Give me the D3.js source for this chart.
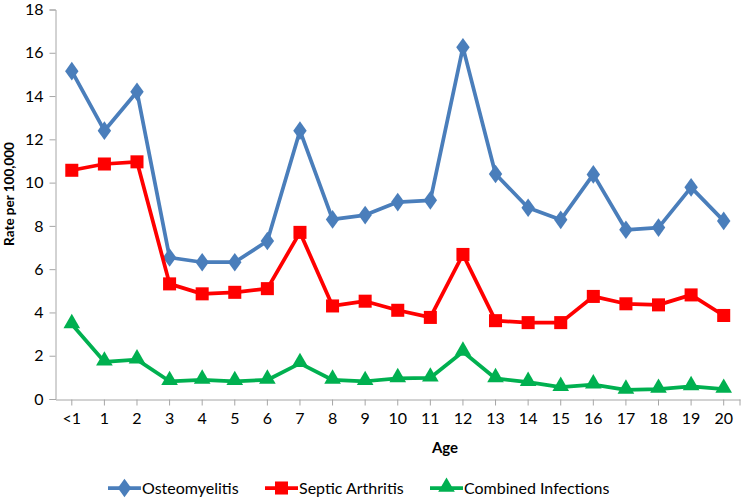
<!DOCTYPE html>
<html><head><meta charset="utf-8">
<script src="https://cdn.jsdelivr.net/npm/d3@7"></script>
<style>body{margin:0;background:#fff}svg{display:block}text{font-family:Lato,"Open Sans",sans-serif;fill:#000}</style>
</head><body><svg id="c" width="742" height="499"></svg>
<script>
const ages = ["<1","1","2","3","4","5","6","7","8","9","10","11","12","13","14","15","16","17","18","19","20"];
const osteomyelitis = [15.15,12.4,14.2,6.54,6.32,6.32,7.3,12.4,8.3,8.5,9.1,9.18,16.25,10.4,8.84,8.28,10.38,7.82,7.92,9.78,8.23];
const septicArthritis = [10.57,10.86,10.96,5.32,4.86,4.93,5.1,7.7,4.3,4.52,4.1,3.77,6.68,3.62,3.53,3.53,4.74,4.4,4.35,4.81,3.86];
const combinedInfections = [3.45,1.72,1.82,0.82,0.88,0.82,0.88,1.65,0.88,0.82,0.95,0.98,2.18,0.95,0.78,0.55,0.66,0.42,0.46,0.58,0.46];
const yTicks = [0,2,4,6,8,10,12,14,16,18];
const seriesNames = ["Osteomyelitis","Septic Arthritis","Combined Infections"];

const svg = d3.select("#c");
const x = d3.scaleBand().domain(ages).range([55.5, 740]).paddingInner(0).paddingOuter(0);
const y = d3.scaleLinear().domain([0,18]).range([399, 9.5]);
const cx = d => x(d) + x.bandwidth()/2;
const axisColor = "#a6a6a6";

// Y axis
const ya = svg.append("g").attr("transform","translate(55.5,0)")
  .call(d3.axisLeft(y).tickValues(yTicks).tickSize(6).tickPadding(6));
ya.select(".domain").attr("stroke",axisColor);
ya.selectAll(".tick line").attr("stroke",axisColor);
ya.selectAll("text").style("font-size","16px");

// X axis
const xa = svg.append("g").attr("transform","translate(0,399.5)")
  .call(d3.axisBottom(x).tickSize(6).tickSizeOuter(0).tickPadding(7));
xa.select(".domain").attr("stroke",axisColor);
xa.selectAll(".tick line").attr("stroke",axisColor);
xa.selectAll("text").style("font-size","16px");
xa.append("line").attr("x1",740).attr("x2",740).attr("y1",0).attr("y2",6).attr("stroke",axisColor);

// titles
svg.append("text").attr("x",445).attr("y",453).attr("text-anchor","middle")
  .style("font-size","15px").style("font-weight","bold").text("Age");
svg.append("text").attr("transform","translate(14,194) rotate(-90)").attr("text-anchor","middle")
  .style("font-size","13.5px").style("font-weight","bold").text("Rate per 100,000");

const colors = ["#4a7ebb","#ff0000","#00b050"];
const data = [osteomyelitis, septicArthritis, combinedInfections];
const symbols = [
  d3.symbol().type(d3.symbolDiamond).size(100),
  d3.symbol().type(d3.symbolSquare).size(170),
  d3.symbol().type(d3.symbolTriangle).size(120)
];
const line = d3.line().x((d,i)=>cx(ages[i])).y(d=>y(d));

data.forEach((vals,k)=>{
  const g = svg.append("g");
  g.append("path").attr("d",line(vals)).attr("fill","none").attr("stroke",colors[k])
    .attr("stroke-width",3.75).attr("stroke-linejoin","round");
  g.selectAll("path.m").data(vals).join("path").attr("class","m")
    .attr("transform",(d,i)=>`translate(${cx(ages[i])},${y(d) + (k===2?-1:0)})${k===0?" scale(1.25,1)":""}`)
    .attr("d",symbols[k]()).attr("fill",colors[k]);
});

// legend
const legendX = [108, 265, 430];
const lg = svg.append("g");
seriesNames.forEach((n,k)=>{
  const lx = legendX[k], ly = 488;
  lg.append("line").attr("x1",lx).attr("x2",lx+33).attr("y1",ly).attr("y2",ly)
    .attr("stroke",colors[k]).attr("stroke-width",3.75);
  lg.append("path").attr("transform",`translate(${lx+16.5},${ly + (k===2?-1:0)})${k===0?" scale(1.25,1)":""}`)
    .attr("d",symbols[k]()).attr("fill",colors[k]);
  lg.append("text").attr("x",lx+34).attr("y",ly+6).style("font-size","16px").text(n);
});
</script></body></html>
